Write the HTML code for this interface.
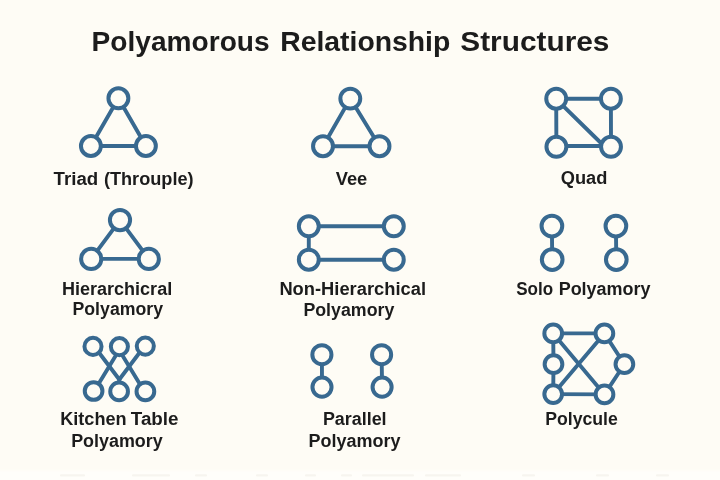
<!DOCTYPE html>
<html><head><meta charset="utf-8"><title>Polyamorous Relationship Structures</title>
<style>
html,body{margin:0;padding:0;width:720px;height:480px;overflow:hidden;background:#FEFCF5;}
svg{position:absolute;left:0;top:0;display:block}
.g{fill:#FEFCF5;stroke:#386990;stroke-width:4.0;stroke-linecap:round}
.t{font-family:"Liberation Sans",sans-serif;font-weight:bold;fill:#1c1c1c}
</style></head><body>
<svg width="720" height="480" viewBox="0 0 720 480">
<defs><filter id="b1" x="0" y="0" width="720" height="480" filterUnits="userSpaceOnUse"><feGaussianBlur stdDeviation="0.55"/></filter><filter id="b2" x="0" y="0" width="720" height="480" filterUnits="userSpaceOnUse"><feGaussianBlur stdDeviation="0.35"/></filter><filter id="b3" x="-10" y="460" width="740" height="30" filterUnits="userSpaceOnUse"><feGaussianBlur stdDeviation="1.2"/></filter></defs>
<rect width="720" height="480" fill="#FEFCF5"/>
<rect x="-5" y="470.5" width="730" height="14" fill="#FFFEFA" filter="url(#b3)"/>
<g fill="#F7F5EF" filter="url(#b1)"><rect x="60" y="474.2" width="25" height="2.2" rx="1"/><rect x="132" y="474.2" width="38" height="2.2" rx="1"/><rect x="195" y="474.2" width="12" height="2.2" rx="1"/><rect x="256" y="474.2" width="12" height="2.2" rx="1"/><rect x="305" y="474.2" width="11" height="2.2" rx="1"/><rect x="341" y="474.2" width="11" height="2.2" rx="1"/><rect x="362" y="474.2" width="52" height="2.2" rx="1"/><rect x="425" y="474.2" width="36" height="2.2" rx="1"/><rect x="522" y="474.2" width="13" height="2.2" rx="1"/><rect x="596" y="474.2" width="13" height="2.2" rx="1"/><rect x="656" y="474.2" width="13" height="2.2" rx="1"/></g>
<g class="g" filter="url(#b1)">
<g><line stroke-width="3.9" x1="118.4" y1="98.3" x2="90.9" y2="146.0"/><line stroke-width="3.9" x1="118.4" y1="98.3" x2="145.9" y2="146.0"/><line stroke-width="3.9" x1="90.9" y1="146.0" x2="145.9" y2="146.0"/><circle cx="118.4" cy="98.3" r="9.95"/><circle cx="90.9" cy="146.0" r="9.95"/><circle cx="145.9" cy="146.0" r="9.95"/></g>
<g><line stroke-width="3.9" x1="350.3" y1="98.6" x2="323.0" y2="146.2"/><line stroke-width="3.9" x1="350.3" y1="98.6" x2="379.5" y2="146.2"/><line stroke-width="3.9" x1="323.0" y1="146.2" x2="379.5" y2="146.2"/><circle cx="350.3" cy="98.6" r="9.95"/><circle cx="323.0" cy="146.2" r="9.95"/><circle cx="379.5" cy="146.2" r="9.95"/></g>
<g><line stroke-width="3.9" x1="556.2" y1="98.7" x2="610.9" y2="98.7"/><line stroke-width="3.9" x1="556.2" y1="98.7" x2="556.4" y2="146.8"/><line stroke-width="3.9" x1="610.9" y1="98.7" x2="611.0" y2="146.8"/><line stroke-width="3.9" x1="556.4" y1="146.0" x2="611" y2="146.0"/><line stroke-width="3.9" x1="556.2" y1="99.2" x2="603" y2="145"/><circle cx="556.2" cy="98.7" r="9.95"/><circle cx="610.9" cy="98.7" r="9.95"/><circle cx="556.4" cy="146.8" r="9.95"/><circle cx="611.0" cy="146.8" r="9.95"/></g>
<g><line stroke-width="3.9" x1="120.0" y1="220.1" x2="91.2" y2="258.9"/><line stroke-width="3.9" x1="120.0" y1="220.1" x2="148.8" y2="258.9"/><line stroke-width="3.9" x1="91.2" y1="258.9" x2="148.8" y2="258.9"/><circle cx="120.0" cy="220.1" r="10.10"/><circle cx="91.2" cy="258.9" r="10.10"/><circle cx="148.8" cy="258.9" r="10.10"/></g>
<g><line stroke-width="3.9" x1="308.8" y1="226.3" x2="393.8" y2="226.3"/><line stroke-width="3.9" x1="308.8" y1="259.7" x2="393.8" y2="259.7"/><line stroke-width="3.9" x1="308.8" y1="226.3" x2="308.8" y2="259.7"/><circle cx="308.8" cy="226.3" r="9.95"/><circle cx="393.8" cy="226.3" r="9.95"/><circle cx="308.8" cy="259.7" r="9.95"/><circle cx="393.8" cy="259.7" r="9.95"/></g>
<g><line stroke-width="3.9" x1="551.9" y1="226.1" x2="552.2" y2="259.6"/><circle cx="551.9" cy="226.1" r="10.35"/><circle cx="552.2" cy="259.6" r="10.35"/></g>
<g><line stroke-width="3.9" x1="615.9" y1="226.1" x2="616.3" y2="259.6"/><circle cx="615.9" cy="226.1" r="10.35"/><circle cx="616.3" cy="259.6" r="10.35"/></g>
<g><line stroke-width="3.9" x1="94.4" y1="346.5" x2="119.3" y2="379.5"/><line stroke-width="3.9" x1="144.2" y1="346.5" x2="119.3" y2="379.5"/><line stroke-width="3.9" x1="119.15" y1="350.1" x2="94.1" y2="391.2"/><line stroke-width="3.9" x1="119.15" y1="350.1" x2="144.2" y2="391.2"/><line stroke-width="3.9" x1="119.3" y1="379.5" x2="119.3" y2="383"/><circle cx="93.0" cy="346.4" r="8.55"/><circle cx="119.4" cy="346.6" r="8.55"/><circle cx="145.3" cy="346.1" r="8.55"/><circle cx="93.6" cy="391.0" r="8.85"/><circle cx="119.1" cy="391.4" r="8.85"/><circle cx="145.4" cy="391.4" r="8.85"/></g>
<g><line stroke-width="3.9" x1="321.9" y1="354.7" x2="322.0" y2="387.1"/><circle cx="321.9" cy="354.7" r="9.55"/><circle cx="322.0" cy="387.1" r="9.55"/></g>
<g><line stroke-width="3.9" x1="381.6" y1="354.7" x2="382.1" y2="387.1"/><circle cx="381.6" cy="354.7" r="9.55"/><circle cx="382.1" cy="387.1" r="9.55"/></g>
<g><line stroke-width="3.9" x1="553.2" y1="333.4" x2="604.4" y2="333.4"/><line stroke-width="3.9" x1="553.2" y1="394.1" x2="604.5" y2="394.4"/><line stroke-width="3.9" x1="553.2" y1="333.4" x2="553.5" y2="364.2"/><line stroke-width="3.9" x1="553.5" y1="364.2" x2="553.2" y2="394.1"/><line stroke-width="3.9" x1="553.2" y1="333.4" x2="604.5" y2="394.4"/><line stroke-width="3.9" x1="553.2" y1="394.1" x2="604.4" y2="333.4"/><line stroke-width="3.9" x1="604.4" y1="333.4" x2="624.4" y2="364.2"/><line stroke-width="3.9" x1="624.4" y1="364.2" x2="604.5" y2="394.4"/><circle cx="553.2" cy="333.4" r="8.85"/><circle cx="604.4" cy="333.4" r="8.85"/><circle cx="553.5" cy="364.2" r="8.85"/><circle cx="624.4" cy="364.2" r="8.85"/><circle cx="553.2" cy="394.1" r="8.85"/><circle cx="604.5" cy="394.4" r="8.85"/></g>
</g>
<g class="t" filter="url(#b2)">
<text x="91.60000000000001" y="51.3" font-size="27.2" textLength="178.0" lengthAdjust="spacingAndGlyphs">Polyamorous</text>
<text x="280.2" y="51.3" font-size="27.2" textLength="170.1" lengthAdjust="spacingAndGlyphs">Relationship</text>
<text x="460.29999999999995" y="51.3" font-size="27.2" textLength="149.1" lengthAdjust="spacingAndGlyphs">Structures</text>
<text x="53.6" y="185" font-size="17.5" textLength="44.6" lengthAdjust="spacingAndGlyphs">Triad</text>
<text x="103.9" y="185" font-size="17.5" textLength="89.7" lengthAdjust="spacingAndGlyphs">(Throuple)</text>
<text x="335.7" y="184.6" font-size="17.5" textLength="31.6" lengthAdjust="spacingAndGlyphs">Vee</text>
<text x="560.8" y="184.4" font-size="17.5" textLength="46.6" lengthAdjust="spacingAndGlyphs">Quad</text>
<text x="61.9" y="295" font-size="17.5" textLength="110.3" lengthAdjust="spacingAndGlyphs">Hierarchicral</text>
<text x="72.5" y="315.2" font-size="17.5" textLength="90.5" lengthAdjust="spacingAndGlyphs">Polyamory</text>
<text x="279.4" y="295" font-size="17.5" textLength="146.6" lengthAdjust="spacingAndGlyphs">Non-Hierarchical</text>
<text x="303.4" y="315.6" font-size="17.5" textLength="90.9" lengthAdjust="spacingAndGlyphs">Polyamory</text>
<text x="516.15" y="294.6" font-size="17.5" textLength="36.9" lengthAdjust="spacingAndGlyphs">Solo</text>
<text x="558.65" y="294.6" font-size="17.5" textLength="91.9" lengthAdjust="spacingAndGlyphs">Polyamory</text>
<text x="60.199999999999996" y="425.1" font-size="17.5" textLength="66.4" lengthAdjust="spacingAndGlyphs">Kitchen</text>
<text x="130.8" y="425.1" font-size="17.5" textLength="47.7" lengthAdjust="spacingAndGlyphs">Table</text>
<text x="71.15" y="447" font-size="17.5" textLength="91.6" lengthAdjust="spacingAndGlyphs">Polyamory</text>
<text x="322.9" y="425.1" font-size="17.5" textLength="63.7" lengthAdjust="spacingAndGlyphs">Parallel</text>
<text x="308.5" y="446.6" font-size="17.5" textLength="92.0" lengthAdjust="spacingAndGlyphs">Polyamory</text>
<text x="545.1999999999999" y="425.1" font-size="17.5" textLength="72.6" lengthAdjust="spacingAndGlyphs">Polycule</text>
</g>
</svg>
</body></html>
